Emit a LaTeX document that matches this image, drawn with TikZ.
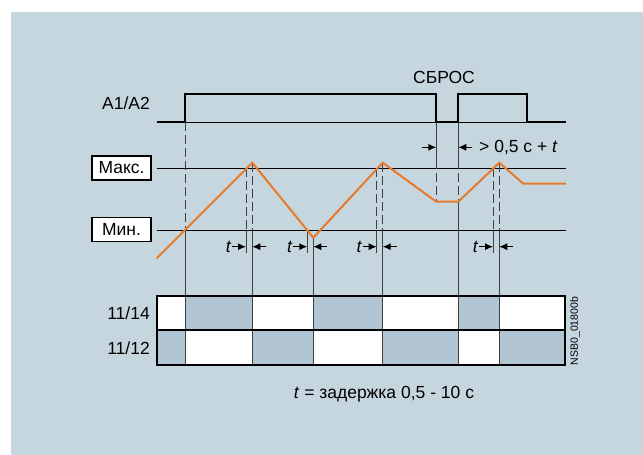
\documentclass[tikz,border=0pt]{standalone}
\usepackage{fontspec}
\setmainfont{Liberation Sans}
\definecolor{panelblue}{RGB}{198,214,223}
\definecolor{cellblue}{RGB}{177,198,210}
\definecolor{ramporange}{RGB}{232,121,42}
\usepackage{tikz}
\usetikzlibrary{arrows.meta,positioning,calc}

\begin{document}
\begin{tikzpicture}[x=1pt,y=-1pt,
    every node/.style={font=\fontsize{17.5}{20}\selectfont, inner sep=0pt},
    level/.style={line width=0.9pt},
    guide/.style={black!75, line width=1pt},
    guidedash/.style={guide, dash pattern=on 9pt off 4pt},
    tick/.style={-{Latex[length=8pt,width=7pt]}, line width=1pt},
    labelbox/.style={draw, line width=1.3pt, fill=white, minimum width=59pt, minimum height=24pt}]
    \useasboundingbox (0,0) rectangle (643,455);
    \fill[panelblue] (11,12) rectangle (643,455);

    % supply A1/A2 and reset
    \node[anchor=east] (a1a2) at (150,103) {A1/A2};
    \node (reset) at (444,77) {СБРОС};
    \draw[level] (156.7,122.3) -- (566,122.3);
    \draw[line width=2pt] (156.7,122.3) -- (185.3,122.3) -- (185.3,93.7) -- (436.3,93.7) -- (436.3,122.3)
        -- (458.3,122.3) -- (458.3,93.7) -- (526.7,93.7) -- (526.7,122.3) -- (566,122.3);

    % thresholds
    \node[labelbox] (max) at (121.5,168) {Макс.};
    \node[labelbox] (min) at (121.5,229.5) {Мин.};
    \draw[level] (156.7,168.3) -- (566,168.3);
    \draw[level] (156.7,230.7) -- (566,230.7);

    % guide lines
    \foreach \x/\y in {252.3/162.7, 382.7/162.7, 499.3/162.7} {
        \draw[guidedash] (\x,\y) -- (\x,230.7);
        \draw[guide] (\x,230.7) -- (\x,296);
    }
    \foreach \x in {246,376.7,493} {
        \draw[guidedash] (\x,168.3) -- (\x,230.7);
        \draw[guide] (\x,230.7) -- (\x,253);
    }
    \draw[guide] (307.3,230.7) -- (307.3,253);
    \draw[guide] (313.3,237.7) -- (313.3,296);
    \draw[guidedash] (185.3,122.3) -- (185.3,230.7);
    \draw[guide] (185.3,230.7) -- (185.3,296);
    \draw[guide] (436.3,122.3) -- (436.3,160);
    \draw[guidedash] (436.3,160) -- (436.3,201.7);
    \draw[guide] (458.3,122.3) -- (458.3,160);
    \draw[guidedash] (458.3,160) -- (458.3,201.7);
    \draw[guide] (458.3,201.7) -- (458.3,296);

    % delay marks
    \foreach \xa/\xb [count=\i] in {246/252.3, 307.3/313.3, 376.7/382.7, 493/499.3} {
        \draw[tick] (\xa-14,246.7) -- (\xa,246.7);
        \draw[tick] (\xb+14,246.7) -- (\xb,246.7);
        \node[anchor=east] (t\i) at (\xa-14.5,246.7) {\textit{t}};
    }
    \draw[tick] (422,147.3) -- (436.3,147.3);
    \draw[tick] (472.3,147.3) -- (458.3,147.3);
    \node[anchor=west] (gap) at (479,147.3) {> 0,5 с + \textit{t}};

    % measured value
    \draw[ramporange, line width=2pt] (156.7,258.3) -- (252.3,162.7) -- (313.3,237.7) -- (382.7,162.7)
        -- (436.3,201.7) -- (458.3,201.7) -- (499.3,162.7) -- (523.3,183.7) -- (566,183.7);

    % contacts
    \foreach \xa/\xb/\fa/\fb in {156.7/185.3/white/cellblue, 185.3/252.3/cellblue/white,
        252.3/313.3/white/cellblue, 313.3/382.7/cellblue/white, 382.7/458.3/white/cellblue,
        458.3/499.3/cellblue/white, 499.3/565/white/cellblue} {
        \fill[\fa] (\xa,296) rectangle (\xb,330);
        \fill[\fb] (\xa,330) rectangle (\xb,365);
    }
    \foreach \x in {185.3,252.3,313.3,382.7,458.3,499.3}
        \draw[guide] (\x,296) -- (\x,365);
    \draw[line width=1.6pt] (156.7,296) rectangle (565,365);
    \draw[line width=1.6pt] (156.7,330) -- (565,330);
    \node[anchor=east] (r1) at (150,313.5) {11/14};
    \node[anchor=east] (r2) at (150,348.5) {11/12};
    \node[rotate=90, font=\fontsize{10.5}{12}\selectfont] (code) at (575,331) {NSB0\_01800b};

    \node (note) at (384,394) {\textit{t} = задержка 0,5 - 10 с};
\end{tikzpicture}
\end{document}
